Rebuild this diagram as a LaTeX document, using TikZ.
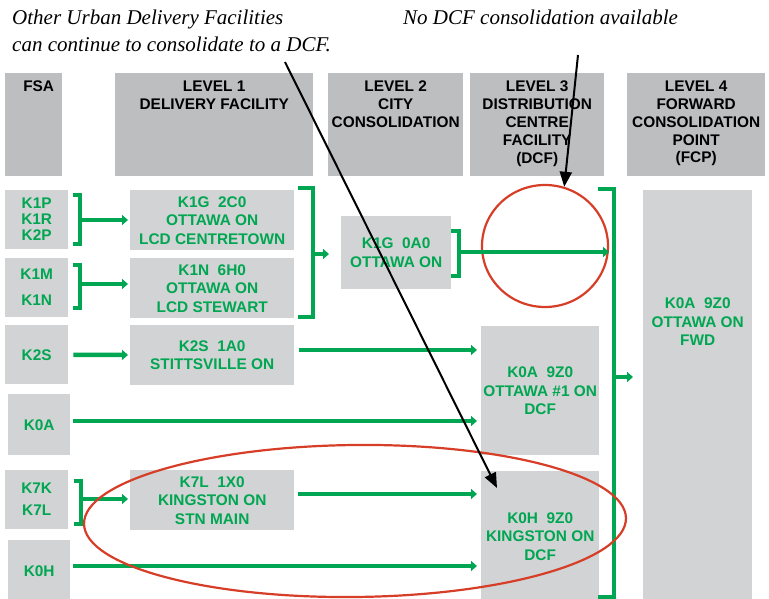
\documentclass[tikz,border=0pt]{standalone}
\usepackage{fontspec}
\usepackage{tikz}
\usetikzlibrary{positioning,shapes.geometric,arrows.meta}
\setmainfont{Liberation Serif}
\newfontfamily\arialfont{Liberation Sans}
\definecolor{dcfgreen}{RGB}{0,166,81}
\definecolor{boxgray}{RGB}{209,211,212}
\definecolor{headgray}{RGB}{189,190,192}
\definecolor{ringred}{RGB}{214,62,40}
\newcommand{\boxfont}{\arialfont\bfseries\fontsize{15.4}{18.5}\selectfont}
\newcommand{\headfont}{\arialfont\bfseries\fontsize{15.4}{17.8}\selectfont}
\tikzset{
  headbox/.style={
    fill=headgray,
    inner sep=0pt,
    anchor=north west,
    minimum height=103pt
  },
  headtext/.style={
    anchor=north,
    inner sep=0pt,
    yshift=-8pt,
    align=center,
    font=\headfont
  },
  facbox/.style={
    fill=boxgray,
    inner sep=0pt,
    anchor=north west,
    align=center,
    text=dcfgreen,
    font=\boxfont
  },
  flow/.style={
    draw=dcfgreen,
    line width=4.5pt,
    -{Triangle[length=6pt,width=10pt]}
  },
  brace/.style={
    draw=dcfgreen,
    line width=4.5pt
  },
  ring/.style={
    ellipse,
    draw=ringred,
    line width=2.2pt,
    inner sep=0pt
  },
  pointer/.style={
    draw=black,
    line width=2pt,
    -{Triangle[length=15pt,width=12pt]}
  },
  note/.style={
    anchor=north west,
    inner sep=0pt,
    align=left,
    font=\itshape\fontsize{21}{26.5}\selectfont
  }
}

\begin{document}
\begin{tikzpicture}[x=1pt,y=-1pt]
        \useasboundingbox (0,0) rectangle (769,599);
        % notes
        \node [note] (otherdf) at (12,10) {Other Urban Delivery Facilities\\can continue to consolidate to a DCF.};
        \node [note] (nodcfnote) at (403,10) {No DCF consolidation available};
        % header row
        \node [headbox, minimum width=57pt, label={[headtext, xshift=5pt]north:FSA}] (hfsa) at (5,73) {};
        \node [headbox, minimum width=198pt, label={[headtext]north:LEVEL 1\\DELIVERY FACILITY}] (hlevA) at (115,73) {};
        \node [headbox, minimum width=135pt, label={[headtext]north:LEVEL 2\\CITY\\CONSOLIDATION}] (hlevB) at (328,73) {};
        \node [headbox, minimum width=134pt, label={[headtext]north:LEVEL 3\\DISTRIBUTION\\CENTRE\\FACILITY\\(DCF)}] (hlevC) at (470,73) {};
        \node [headbox, minimum width=138pt, label={[headtext]north:LEVEL 4\\FORWARD\\CONSOLIDATION\\POINT\\(FCP)}] (hlevD) at (627,73) {};
        % FSA column
        \node [facbox, minimum width=63pt, minimum height=59pt, font=\arialfont\bfseries\fontsize{15.4}{16}\selectfont] (k1p) at (5,190) {K1P\\K1R\\K2P};
        \node [facbox, minimum width=63pt, minimum height=59pt, font=\arialfont\bfseries\fontsize{15.4}{16}\selectfont] (k1m) at (5,258) {K1M\\[10pt]K1N};
        \node [facbox, minimum width=63pt, minimum height=59pt] (k2s) at (5,325) {K2S};
        \node [facbox, minimum width=62pt, minimum height=61pt] (k0a) at (8,394) {K0A};
        \node [facbox, minimum width=63pt, minimum height=59pt, font=\arialfont\bfseries\fontsize{15.4}{22}\selectfont] (k7k) at (5,470) {K7K\\K7L};
        \node [facbox, minimum width=62pt, minimum height=62pt] (k0h) at (8,540) {K0H};
        % level 1
        \node [facbox, minimum width=164pt, minimum height=60pt] (centretown) at (130,190) {K1G\ \ 2C0\\OTTAWA ON\\LCD CENTRETOWN};
        \node [facbox, minimum width=164pt, minimum height=60pt] (stewart) at (130,258) {K1N\ \ 6H0\\OTTAWA ON\\LCD STEWART};
        \node [facbox, minimum width=164pt, minimum height=60pt] (stitts) at (130,325) {K2S\ \ 1A0\\STITTSVILLE ON};
        \node [facbox, minimum width=164pt, minimum height=60pt] (stnmain) at (130,470) {K7L\ \ 1X0\\KINGSTON ON\\STN MAIN};
        % level 2
        \node [facbox, minimum width=110pt, minimum height=73pt] (ottcity) at (341,216) {K1G\ \ 0A0\\OTTAWA ON};
        % level 3
        \node [facbox, minimum width=118pt, minimum height=129pt] (dcfott) at (481,326) {K0A\ \ 9Z0\\OTTAWA \#1 ON\\DCF};
        \node [facbox, minimum width=118pt, minimum height=130pt] (dcfking) at (481,471) {K0H\ \ 9Z0\\KINGSTON ON\\DCF};
        % level 4
        \node [facbox, minimum width=109pt, minimum height=412pt, label={[anchor=north, inner sep=0pt, yshift=-108pt, align=center, text=dcfgreen, font=\boxfont]north:K0A\ \ 9Z0\\OTTAWA ON\\FWD}] (fwd) at (643,190) {};
        % brackets
        \draw [brace] (73,195) -| (80,244) -- (73,244);
        \draw [brace] (73,265) -| (80,308) -- (73,308);
        \draw [brace] (74,481) -| (81,524) -- (74,524);
        \draw [brace] (298,188) -| (313,317) -- (298,317);
        \draw [brace] (451,231) -| (459,276) -- (451,276);
        \draw [brace] (598,189) -| (614,597) -- (598,597);
        \coordinate (jA) at (80,220);
        \coordinate (jB) at (80,284);
        \coordinate (jC) at (313,254);
        \coordinate (jD) at (459,252);
        \coordinate (jE) at (614,377);
        \coordinate (jF) at (81,499);
        \coordinate (stittsOut) at (299,350);
        \coordinate (stnmainOut) at (298,494);
        \coordinate (k0aOut) at (73,421);
        \coordinate (k0hOut) at (73,566);
        % green flows
        \draw [flow, shorten >=2pt] (jA) -- (jA -| centretown.west);
        \draw [flow, shorten >=2pt] (jB) -- (jB -| stewart.west);
        \draw [flow, shorten <=5pt, shorten >=2pt] (k2s) -- (stitts);
        \draw [flow, shorten >=2pt] (jF) -- (jF -| stnmain.west);
        \draw [flow, shorten >=12pt] (jC) -- (jC -| ottcity.west);
        \draw [flow, shorten >=4pt] (stittsOut) -- (stittsOut -| dcfott.west);
        \draw [flow, shorten >=4pt] (k0aOut) -- (k0aOut -| dcfott.west);
        \draw [flow, shorten >=4pt] (stnmainOut) -- (stnmainOut -| dcfking.west);
        \draw [flow, shorten >=4pt] (k0hOut) -- (k0hOut -| dcfking.west);
        \draw [flow, shorten >=10pt] (jE) -- (jE -| fwd.west);
        % red rings
        \node [ring, minimum width=126pt, minimum height=122pt] (gapring) at (545,246) {};
        \draw [flow] (jD) -- (jD -| gapring.east);
        \node [ring, minimum width=542pt, minimum height=152pt, rotate=0.6] (kingring) at (355,521) {};
        % pointers
        \coordinate (otherTail) at (285,62);
        \coordinate (kingTip) at (497,488);
        \coordinate (nodcfTail) at (578,55);
        \draw [pointer] (otherTail) -- (kingTip);
        \draw [pointer] (nodcfTail) -- (gapring.72);
      \end{tikzpicture}
\end{document}
